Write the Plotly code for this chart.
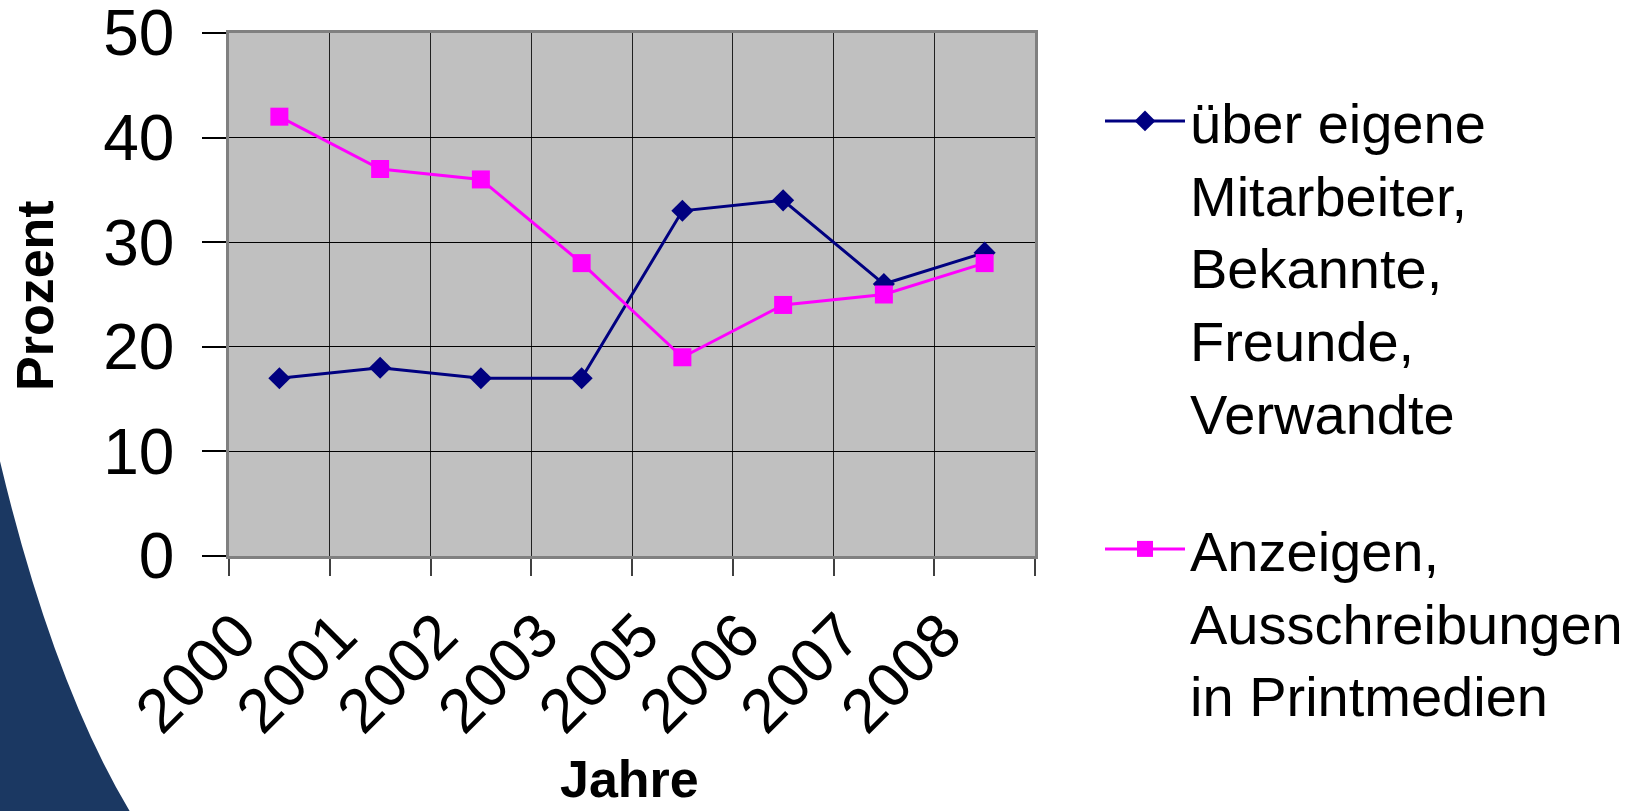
import plotly.graph_objects as go

# ---- data ----
years = ["2000", "2001", "2002", "2003", "2005", "2006", "2007", "2008"]
mitarbeiter = [17, 18, 17, 17, 33, 34, 26, 29]
anzeigen = [42, 37, 36, 28, 19, 24, 25, 28]
name_mitarbeiter = "über eigene<br>Mitarbeiter,<br>Bekannte,<br>Freunde,<br>Verwandte"
name_anzeigen = "Anzeigen,<br>Ausschreibungen<br>in Printmedien"
y_ticks = [0, 10, 20, 30, 40, 50]
x_title = "Jahre"
y_title = "Prozent"

W, H = 1639, 811
L, R, T, B = 229, 604, 33, 255
PW, PH = W - L - R, H - T - B

def px(x):
    return (x - L) / PW

def py(y):
    return (H - B - y) / PH

FONT = "Liberation Sans, Arial, sans-serif"

fig = go.Figure()
fig.add_trace(go.Scatter(
    x=years, y=mitarbeiter, name=name_mitarbeiter, mode="lines+markers",
    line=dict(color="#000080", width=3),
    marker=dict(symbol="diamond", size=17, color="#000080"),
    legend="legend",
))
fig.add_trace(go.Scatter(
    x=years, y=anzeigen, name=name_anzeigen, mode="lines+markers",
    line=dict(color="#FF00FF", width=3),
    marker=dict(symbol="square", size=18, color="#FF00FF"),
    legend="legend2",
))

# decorative slide background curve (bottom-left)
path = (f"M {px(-5)},{py(440)} Q {px(50)},{py(680)} {px(132)},{py(815)} "
        f"L {px(-5)},{py(815)} Z")
fig.add_shape(type="path", path=path, xref="paper", yref="paper",
              fillcolor="#1b3862", line=dict(width=0), layer="below")

# axis titles
fig.add_annotation(text=f"<b>{x_title}</b>", xref="paper", yref="paper",
                   x=px(629), y=py(810), xanchor="center", yanchor="bottom",
                   showarrow=False, font=dict(size=52, family=FONT, color="black"))
fig.add_annotation(text=f"<b>{y_title}</b>", xref="paper", yref="paper",
                   x=px(35), y=py(296), xanchor="center", yanchor="middle",
                   textangle=-90, showarrow=False,
                   font=dict(size=52, family=FONT, color="black"))

legend_common = dict(
    x=px(1100), xanchor="left", yref="container", yanchor="top",
    font=dict(size=56, family=FONT, color="black"),
    valign="top", itemwidth=80, bgcolor="rgba(0,0,0,0)",
)

fig.update_layout(
    width=W, height=H,
    margin=dict(l=L, r=R, t=T, b=B, autoexpand=False),
    paper_bgcolor="white",
    plot_bgcolor="#C0C0C0",
    font=dict(family=FONT, color="black"),
    showlegend=True,
    legend=dict(y=1 - 78 / H, **legend_common),
    legend2=dict(y=1 - 506 / H, **legend_common),
)
fig.update_xaxes(
    type="category", tickson="boundaries",
    showgrid=True, gridcolor="#202020", gridwidth=1,
    ticks="outside", ticklen=17, tickcolor="#404040", tickwidth=1.5,
    tickangle=-45, tickfont=dict(size=62, family=FONT),
    ticklabelshift=-42, ticklabelstandoff=15,
    showline=True, linecolor="#808080", linewidth=2.5, mirror=True,
    range=[-0.5, 7.5], fixedrange=True,
)
fig.update_yaxes(
    range=[0, 50], tickvals=y_ticks,
    showgrid=True, gridcolor="#000000", gridwidth=1,
    ticks="outside", ticklen=24, tickcolor="#000000", tickwidth=1.5,
    tickfont=dict(size=64, family=FONT), ticklabelstandoff=15,
    ticklabeloverflow="allow",
    showline=True, linecolor="#808080", linewidth=2.5, mirror=True,
    zeroline=False,
    fixedrange=True,
)

fig.write_html("out.html", config={"displayModeBar": False},
               post_script="document.body.style.margin='0';")
